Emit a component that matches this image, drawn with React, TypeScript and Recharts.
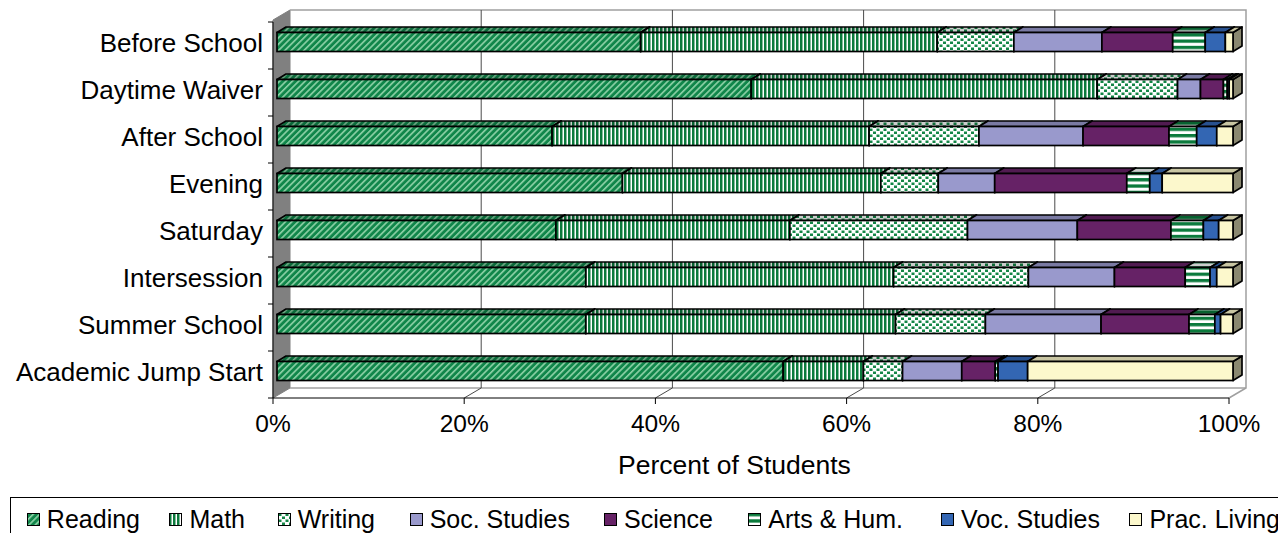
import { BarChart, Bar, XAxis, YAxis, Customized } from "recharts";

const CATEGORIES = [
  "Before School",
  "Daytime Waiver",
  "After School",
  "Evening",
  "Saturday",
  "Intersession",
  "Summer School",
  "Academic Jump Start",
];

// percent of students per subject, one value per category (top to bottom)
const READING = [38.0, 49.6, 28.8, 36.1, 29.2, 32.3, 32.3, 53.0];
const MATH = [31.0, 36.2, 33.2, 27.0, 24.5, 32.2, 32.4, 8.4];
const WRITING = [8.0, 8.4, 11.5, 6.0, 18.6, 14.1, 9.4, 4.1];
const SOC_STUDIES = [9.2, 2.4, 10.9, 5.9, 11.5, 9.0, 12.1, 6.2];
const SCIENCE = [7.4, 2.4, 9.0, 13.8, 9.8, 7.4, 9.2, 3.5];
const ARTS_HUM = [3.4, 0.4, 2.9, 2.4, 3.4, 2.6, 2.7, 0.3];
const VOC_STUDIES = [2.1, 0.2, 2.1, 1.3, 1.6, 0.7, 0.6, 3.1];
const PRAC_LIVING = [0.8, 0.4, 1.7, 7.4, 1.5, 1.7, 1.3, 21.5];

const X_TICKS = [0, 0.2, 0.4, 0.6, 0.8, 1];

const SERIES = [
  { key: "reading", name: "Reading", values: READING, fill: "url(#pat-reading)", legendEnd: 140 },
  { key: "math", name: "Math", values: MATH, fill: "url(#pat-math)", legendEnd: 245 },
  { key: "writing", name: "Writing", values: WRITING, fill: "url(#pat-writing)", legendEnd: 375 },
  { key: "soc", name: "Soc. Studies", values: SOC_STUDIES, fill: "#9999cc", legendEnd: 570 },
  { key: "science", name: "Science", values: SCIENCE, fill: "#662266", legendEnd: 713 },
  { key: "arts", name: "Arts & Hum.", values: ARTS_HUM, fill: "url(#pat-arts)", legendEnd: 903 },
  { key: "voc", name: "Voc. Studies", values: VOC_STUDIES, fill: "#3366b3", legendEnd: 1100 },
  { key: "prac", name: "Prac. Living", values: PRAC_LIVING, fill: "#fcf8cc", legendEnd: 1280 },
];

const rows = CATEGORIES.map((name, i) => {
  const row: Record<string, string | number> = { name };
  SERIES.forEach((s) => (row[s.key] = s.values[i]));
  return row;
});

const FONT = "'Liberation Sans', Arial, sans-serif";
const W = 1278;
const H = 525;
// plot area (svg coords)
const L = 265;
const R = 1221;
const T = 14;
const B = 390;
// depth of the 3d walls
const WDX = 17;
const WDY = 10;
// bar front offset and bar depth
const FDX = 4;
const FDY = -3.5;
const BDX = 9;
const BDY = 5.5;

function Bar3D(props: any) {
  const { x, y, width, height, fill } = props;
  if (width == null || width <= 0 || height == null) return null;
  const fx = x + FDX;
  const fy = y + FDY;
  const top = `${fx},${fy} ${fx + BDX},${fy - BDY} ${fx + width + BDX},${fy - BDY} ${fx + width},${fy}`;
  const side = `${fx + width},${fy} ${fx + width + BDX},${fy - BDY} ${fx + width + BDX},${fy + height - BDY} ${fx + width},${fy + height}`;
  return (
    <g>
      <polygon points={side} fill={fill} />
      <polygon points={side} fill="#000" fillOpacity={0.45} stroke="#000" strokeWidth={1.7} strokeLinejoin="round" />
      <polygon points={top} fill={fill} />
      <polygon points={top} fill="#000" fillOpacity={0.2} stroke="#000" strokeWidth={1.7} strokeLinejoin="round" />
      <rect x={fx} y={fy} width={width} height={height} fill={fill} stroke="#000" strokeWidth={1.7} />
    </g>
  );
}

function CategoryTick(props: any) {
  const { x, y, payload } = props;
  return (
    <text x={x} y={y} dy={6.8} textAnchor="end" fontSize={26} fontFamily={FONT} fill="#000">
      {payload.value}
    </text>
  );
}

function Walls() {
  const pw = R - L;
  const band = (B - T) / CATEGORIES.length;
  return (
    <g>
      <polygon
        points={`${L},${T - 2} ${L + WDX},${T - 2 - WDY} ${L + WDX},${B - WDY} ${L},${B}`}
        fill="#808080"
        stroke="#808080"
      />
      <polyline
        points={`${L + WDX},${T - 2 - WDY} ${R + WDX},${T - 2 - WDY} ${R + WDX},${B - WDY} ${R},${B}`}
        fill="none"
        stroke="#a0a0a0"
        strokeWidth={1.5}
      />
      <line x1={L + WDX} y1={B - WDY} x2={R + WDX} y2={B - WDY} stroke="#a0a0a0" strokeWidth={1.5} />
      {X_TICKS.slice(1, -1).map((t) => {
        const gx = L + pw * t;
        return (
          <polyline
            key={t}
            points={`${gx + WDX},${T - 2 - WDY} ${gx + WDX},${B - WDY} ${gx},${B}`}
            fill="none"
            stroke="#4a4a4a"
            strokeWidth={1}
          />
        );
      })}
      {CATEGORIES.concat([""]).map((_, k) => (
        <line key={k} x1={L - 5} y1={T + k * band} x2={L} y2={T + k * band} stroke="#000" />
      ))}
      <text x={726.5} y={466} textAnchor="middle" fontSize={26.5} fontFamily={FONT} fill="#000">
        Percent of Students
      </text>
    </g>
  );
}

function Patterns() {
  return (
    <svg width={0} height={0} style={{ position: "absolute" }}>
      <defs>
        <pattern id="pat-reading" width={4.5} height={4.5} patternUnits="userSpaceOnUse" patternTransform="rotate(45)">
          <rect width={4.5} height={4.5} fill="#10864a" />
          <rect x={0} width={1.6} height={4.5} fill="#8fd2a8" />
        </pattern>
        <pattern id="pat-math" width={4} height={4} patternUnits="userSpaceOnUse">
          <rect width={4} height={4} fill="#ffffff" />
          <rect x={0} width={2.5} height={4} fill="#0b7a3c" />
        </pattern>
        <pattern id="pat-writing" width={7} height={6} patternUnits="userSpaceOnUse">
          <rect width={7} height={6} fill="#ffffff" />
          <rect x={0.5} y={0.5} width={3} height={2.5} fill="#138646" />
          <rect x={4} y={3.5} width={3} height={2.5} fill="#138646" />
        </pattern>
        <pattern id="pat-arts" width={6} height={6.3} patternUnits="userSpaceOnUse">
          <rect width={6} height={6.3} fill="#ffffff" />
          <rect y={0} width={6} height={3.3} fill="#0b7a3c" />
        </pattern>
      </defs>
    </svg>
  );
}

function LegendBox() {
  const boxLeft = 10;
  const innerRight = 1282;
  return (
    <div
      style={{
        position: "absolute",
        left: boxLeft - 8,
        top: 497 - 8,
        width: 1273,
        height: 60,
        boxSizing: "border-box",
        border: "1px solid #000",
        background: "#fff",
        fontFamily: FONT,
        fontSize: 25,
      }}
    >
      {SERIES.map((s) => (
        <div
          key={s.key}
          style={{
            position: "absolute",
            right: innerRight - s.legendEnd,
            top: 9,
            height: 24,
            lineHeight: "24px",
            display: "flex",
            alignItems: "center",
            whiteSpace: "nowrap",
          }}
        >
          <svg width={13} height={13} style={{ marginRight: 7 }}>
            <rect x={0.5} y={0.5} width={12} height={12} fill={s.fill} stroke="#000" />
          </svg>
          <span>{s.name}</span>
        </div>
      ))}
    </div>
  );
}

export default function App() {
  return (
    <div style={{ position: "relative", width: W, height: H, background: "#fff" }}>
      <Patterns />
      <BarChart
        width={W}
        height={H}
        data={rows}
        layout="vertical"
        stackOffset="expand"
        barSize={19}
        margin={{ top: T, right: W - R, bottom: H - B - 40, left: 0 }}
      >
        <Customized component={Walls} />
        <XAxis
          type="number"
          domain={[0, 1]}
          ticks={X_TICKS}
          tickFormatter={(v: number) => `${Math.round(v * 100)}%`}
          height={40}
          stroke="#000"
          tickSize={6}
          tickMargin={11}
          tick={{ fontSize: 24.5, fill: "#000", fontFamily: FONT }}
          interval={0}
        />
        <YAxis
          type="category"
          dataKey="name"
          width={L}
          stroke="#000"
          tickLine={false}
          tickSize={0}
          tickMargin={10}
          interval={0}
          tick={<CategoryTick />}
        />
        {SERIES.map((s) => (
          <Bar
            key={s.key}
            dataKey={s.key}
            name={s.name}
            stackId="a"
            fill={s.fill}
            shape={Bar3D}
            isAnimationActive={false}
          />
        ))}
      </BarChart>
      <LegendBox />
    </div>
  );
}
